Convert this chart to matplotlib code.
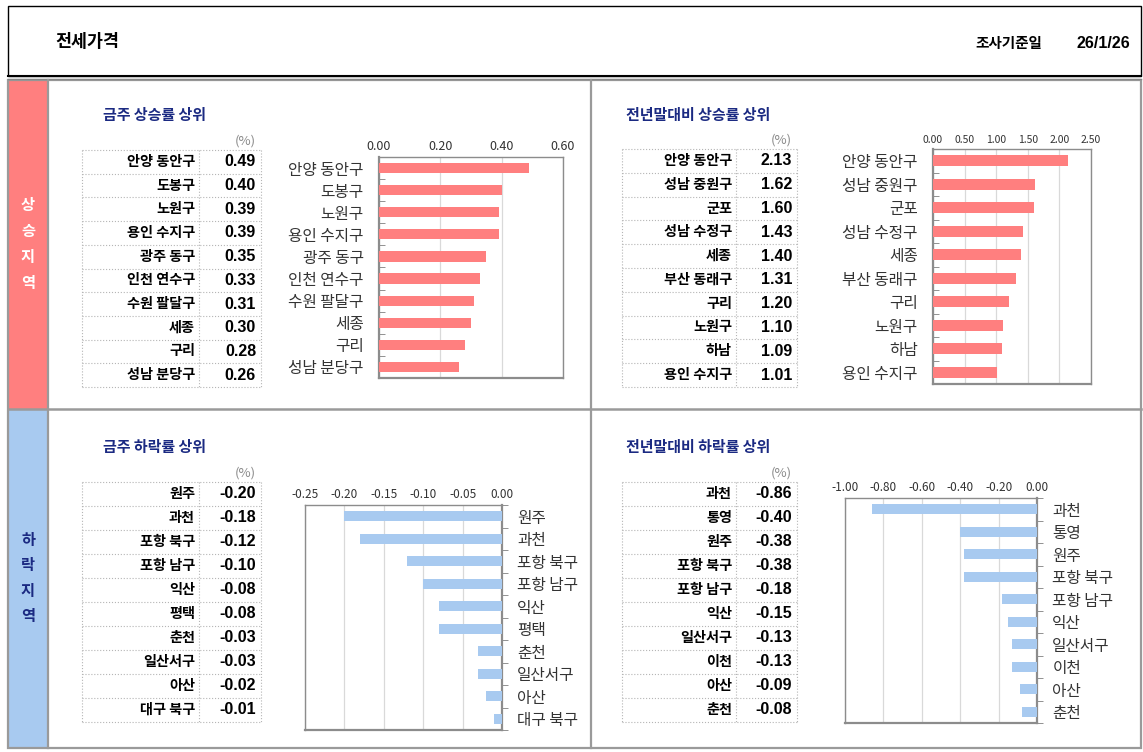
import matplotlib.pyplot as plt
from matplotlib.patches import Rectangle

plt.rcParams['font.family'] = ['Noto Sans CJK KR', 'DejaVu Sans']
plt.rcParams['axes.unicode_minus'] = True

W, H = 1143, 752

# data
week_up_names = ["안양 동안구", "도봉구", "노원구", "용인 수지구", "광주 동구",
                 "인천 연수구", "수원 팔달구", "세종", "구리", "성남 분당구"]
week_up_vals = [0.49, 0.40, 0.39, 0.39, 0.35, 0.33, 0.31, 0.30, 0.28, 0.26]

year_up_names = ["안양 동안구", "성남 중원구", "군포", "성남 수정구", "세종",
                 "부산 동래구", "구리", "노원구", "하남", "용인 수지구"]
year_up_vals = [2.13, 1.62, 1.60, 1.43, 1.40, 1.31, 1.20, 1.10, 1.09, 1.01]

week_dn_names = ["원주", "과천", "포항 북구", "포항 남구", "익산",
                 "평택", "춘천", "일산서구", "아산", "대구 북구"]
week_dn_vals = [-0.20, -0.18, -0.12, -0.10, -0.08, -0.08, -0.03, -0.03, -0.02, -0.01]

year_dn_names = ["과천", "통영", "원주", "포항 북구", "포항 남구",
                 "익산", "일산서구", "이천", "아산", "춘천"]
year_dn_vals = [-0.86, -0.40, -0.38, -0.38, -0.18, -0.15, -0.13, -0.13, -0.09, -0.08]

RED = "#FF7F7F"
BLUE = "#A8CAF0"
NAVY = "#1B2A82"
GREY = "#9a9a9a"

fig = plt.figure(figsize=(W / 100, H / 100), dpi=100)
bg = fig.add_axes([0, 0, 1, 1])
bg.set_xlim(0, W)
bg.set_ylim(H, 0)
bg.axis("off")


def rect(x0, y0, x1, y1):
    return [x0 / W, 1 - y1 / H, (x1 - x0) / W, (y1 - y0) / H]


# header
bg.add_patch(Rectangle((8, 6), 1133, 70, fill=False, ec="black", lw=1))
bg.plot([8, 1141], [75.5, 75.5], color="black", lw=1.5)
bg.plot([8, 1141], [78.5, 78.5], color="#888888", lw=1)
bg.text(55, 42, "전세가격", fontsize=12.5, fontweight="heavy", va="center")
bg.text(975, 43, "조사기준일", fontsize=10.5, fontweight="heavy", va="center")
bg.text(1130, 43, "26/1/26", fontsize=11.5, fontweight="bold", va="center", ha="right",
        family=["Liberation Sans", "DejaVu Sans"])

# main frame
bg.add_patch(Rectangle((8, 80), 40, 329, color=RED, lw=0))
bg.add_patch(Rectangle((8, 409), 40, 339, color=BLUE, lw=0))
bg.add_patch(Rectangle((8, 80), 1133, 668, fill=False, ec=GREY, lw=1.6))
bg.plot([48, 48], [80, 748], color=GREY, lw=1.6)
bg.plot([8, 1141], [409, 409], color=GREY, lw=1.8)
bg.plot([591, 591], [80, 748], color=GREY, lw=1.6)

for ch, y in zip("상승지역", [205, 231, 257, 283]):
    bg.text(28, y, ch, color="white", fontsize=11, fontweight="heavy", ha="center", va="center")
for ch, y in zip("하락지역", [540, 565, 591, 616]):
    bg.text(28, y, ch, color=NAVY, fontsize=11, fontweight="heavy", ha="center", va="center")


def table(title, names, vals, x0, xc, x1, tx, ty, y0, y1):
    bg.text(tx, ty, title, color=NAVY, fontsize=10.8, fontweight="heavy", va="center")
    bg.text(x1 - 16, y0 - 9, "(%)", color="#8a8a8a", fontsize=9.5, ha="center", va="center")
    n = len(names)
    rh = (y1 - y0) / n
    for i in range(n + 1):
        bg.plot([x0, x1], [y0 + i * rh, y0 + i * rh], color="#b5b5b5", lw=0.8, ls=":")
    for x in (x0, xc, x1):
        bg.plot([x, x], [y0, y1], color="#b5b5b5", lw=0.8, ls=":")
    for i, (nm, v) in enumerate(zip(names, vals)):
        yc = y0 + (i + 0.5) * rh
        bg.text(xc - 4, yc, nm, fontsize=10.2, fontweight="heavy", ha="right", va="center")
        bg.text(x1 - 5, yc, f"{v:.2f}", fontsize=11.5, fontweight="bold", ha="right", va="center",
                family=["Liberation Sans", "DejaVu Sans"])


table("금주 상승률 상위", week_up_names, week_up_vals, 82, 199, 261, 103, 115, 150, 387)
table("전년말대비 상승률 상위", year_up_names, year_up_vals, 622, 736, 797, 626, 115, 149, 387)
table("금주 하락률 상위", week_dn_names, week_dn_vals, 82, 199, 261, 103, 447, 482, 722)
table("전년말대비 하락률 상위", year_dn_names, year_dn_vals, 622, 736, 797, 626, 447, 482, 722)


def bars(box, names, vals, color, xlim, ticks, neg, tick_fs, lab_fs):
    ax = fig.add_axes(rect(*box))
    n = len(names)
    ax.barh(range(n), vals, height=0.46, color=color, zorder=3)
    ax.set_ylim(n - 0.5, -0.5)
    ax.set_xlim(*xlim)
    ax.set_xticks(ticks)
    ax.set_xticklabels([f"{t:.2f}" for t in ticks], fontsize=tick_fs, color="#333333")
    ax.xaxis.tick_top()
    ax.tick_params(axis="x", length=0, pad=3)
    ax.grid(axis="x", color="#d9d9d9", lw=0.9, zorder=0)
    ax.set_yticks(range(n))
    ax.set_yticklabels(names, fontsize=lab_fs, color="#333333")
    ax.set_yticks([i + 0.5 for i in range(-1, n)], minor=True)
    if neg:
        ax.yaxis.tick_right()
        ax.tick_params(axis="y", which="major", length=0, pad=11)
        ax.tick_params(axis="y", which="minor", length=4, direction="out", color="#808080", right=True, left=False)
    else:
        ax.tick_params(axis="y", which="major", length=0, pad=11)
        ax.tick_params(axis="y", which="minor", length=4, direction="in", color="#808080")
    for s in ax.spines.values():
        s.set_color("#8c8c8c")
        s.set_linewidth(1.0)
    ax.spines["bottom"].set_linewidth(1.6)
    ax.spines["right" if neg else "left"].set_linewidth(1.6)
    return ax


bars((379, 157, 563, 378), week_up_names, week_up_vals, RED, (0, 0.6),
     [0, 0.2, 0.4, 0.6], False, 9, 11.3)
bars((933, 149, 1091, 384), year_up_names, year_up_vals, RED, (0, 2.5),
     [0, 0.5, 1.0, 1.5, 2.0, 2.5], False, 7.5, 11.3)
bars((305, 505, 502, 730), week_dn_names, week_dn_vals, BLUE, (-0.25, 0),
     [-0.25, -0.2, -0.15, -0.1, -0.05, 0], True, 8.5, 11.3)
bars((845, 498, 1037, 723), year_dn_names, year_dn_vals, BLUE, (-1.0, 0),
     [-1.0, -0.8, -0.6, -0.4, -0.2, 0], True, 8.5, 11.3)

fig.savefig("out.png", dpi=100)
